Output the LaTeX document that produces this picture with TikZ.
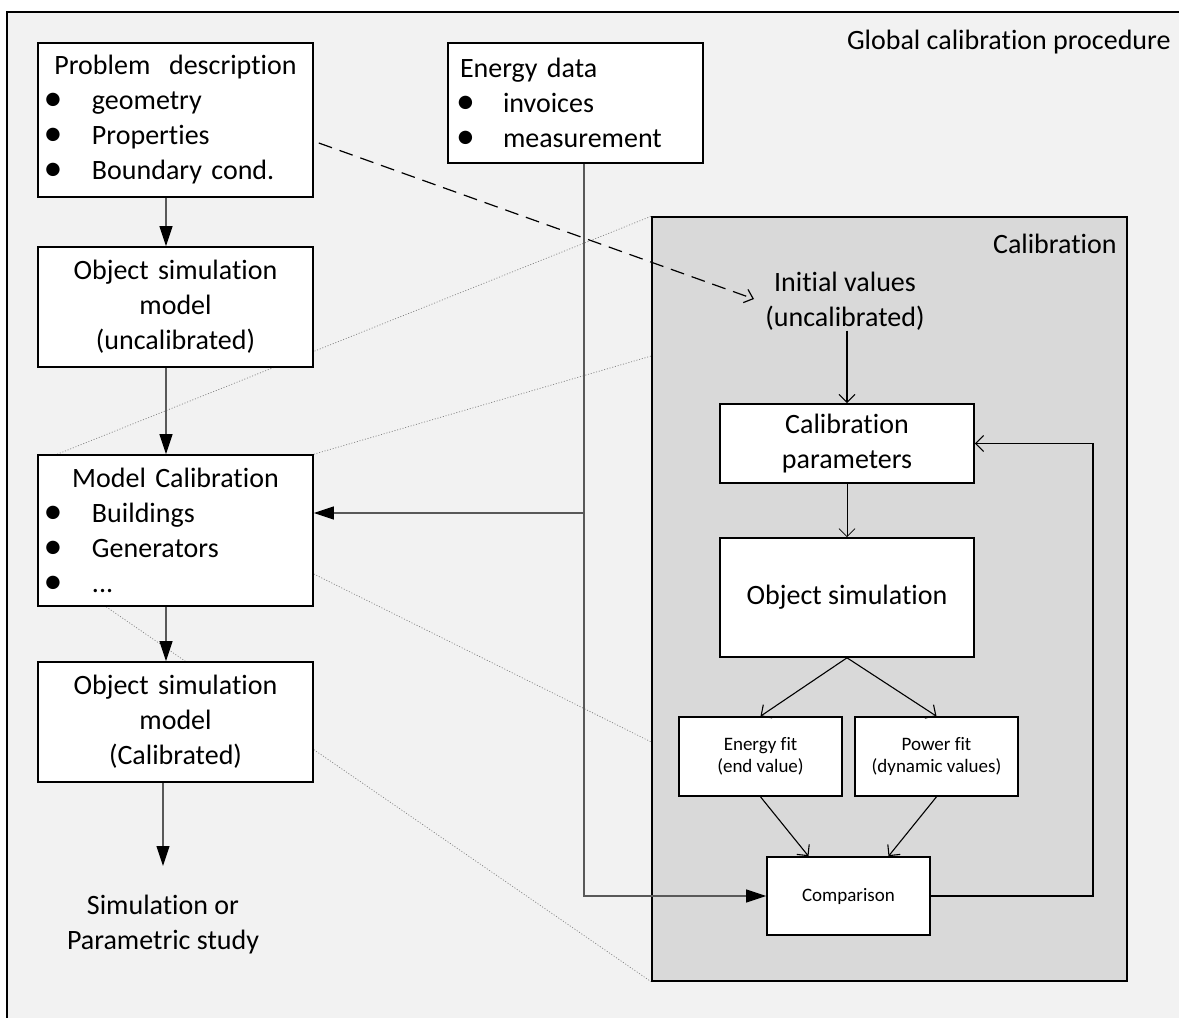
\documentclass[tikz,border=0pt]{standalone}
\usepackage{fontspec}
\usepackage{graphicx}
\setmainfont{Carlito}[Ligatures={NoCommon}]
\usetikzlibrary{arrows.meta,calc}
\definecolor{outerbg}{HTML}{F2F2F2}
\definecolor{calbg}{HTML}{D9D9D9}
\definecolor{linegray}{HTML}{595959}
\pgfdeclarelayer{bglayer}
\pgfdeclarelayer{zoomlayer}
\pgfsetlayers{bglayer,zoomlayer,main}
\newcommand{\bigbul}{\raisebox{-0.4pt}{\scalebox{1.35}{•}}}
\newcommand{\bitem}[1]{\hspace*{7.5pt}\makebox[0pt]{\bigbul}\hspace*{19.5pt}#1}
\newcommand{\eitem}[1]{\hspace*{8.75pt}\makebox[0pt]{\bigbul}\hspace*{18.75pt}#1}
\begin{document}
\begin{tikzpicture}[x=0.5pt,y=-0.5pt,
  box/.style={draw=black, line width=0.8pt, fill=white, inner sep=0pt,
    font=\fontsize{14}{17.5}\selectfont},
  leftbox/.style={box, minimum width=137.5pt, text width=137.5pt},
  smallbox/.style={box, minimum width=81.5pt, minimum height=39.5pt, align=center,
    font=\fontsize{9.5}{11}\selectfont},
  plain/.style={inner sep=0pt, font=\fontsize{14}{17.5}\selectfont},
  filledarrow/.style={-{Triangle[length=10pt,width=6.5pt,color=black]}, line width=0.55pt, draw=linegray},
  openarrow/.style={-{Straight Barb[length=4pt,width=8pt]}, line width=0.55pt, draw=black},
  zoomline/.style={draw=gray, line width=0.35pt, dash pattern=on 0.5pt off 0.9pt}]
\useasboundingbox (0,0) rectangle (1179,1018);
\clip (0,0) rectangle (1179,1018);
\begin{pgfonlayer}{bglayer}
  \draw[fill=outerbg, line width=0.7pt] (7,12) rectangle (1200,1040);
\end{pgfonlayer}

\node[plain, anchor=base east] (glob) at (1171,49) {Global calibration procedure};

% calibration region
\node[draw=black, line width=0.75pt, fill=calbg, minimum width=237.5pt, minimum height=382pt, inner sep=0pt] (cal) at (889.5,599) {};
\node[plain, anchor=base east] (callab) at (1117,253) {Calibration};

% left column
\node[leftbox, minimum height=77pt, align=left] (pd) at (175.5,120)
  {\makebox[137.5pt]{Problem\ \ description}\\ \bitem{geometry}\\ \bitem{Properties}\\ \bitem{Boundary cond.}};
\node[leftbox, minimum height=60pt, align=center] (osm) at (175.5,307)
  {Object simulation\\model\\(uncalibrated)};
\node[leftbox, minimum height=75.5pt, align=left] (mc) at (175.5,530.5)
  {\makebox[137.5pt]{Model Calibration}\\ \bitem{Buildings}\\ \bitem{Generators}\\ \bitem{...}};
\node[leftbox, minimum height=60pt, align=center] (osmc) at (175.5,722)
  {Object simulation\\model\\(Calibrated)};
\node[plain, align=center] (res) at (163,925) {Simulation or\\Parametric study};

% energy data
\node[box, minimum width=127.5pt, text width=127.5pt, minimum height=60pt, align=left] (ed) at (575.5,103)
  {\hspace*{6pt}Energy data\\ \eitem{invoices}\\ \eitem{measurement}};

% calibration inner
\node[plain, align=center] (iv) at (845,301) {Initial values\\(uncalibrated)};
\node[box, minimum width=127pt, minimum height=39.5pt, align=center] (cp) at (847,443.5) {Calibration\\parameters};
\node[box, minimum width=127pt, minimum height=59.5pt, align=center] (os) at (847,597.5) {Object simulation};
\node[smallbox] (ef) at (760.5,756.5) {Energy fit\\(end value)};
\node[smallbox] (pf) at (936.5,756.5) {Power fit\\(dynamic values)};
\node[smallbox, minimum height=39pt] (cmp) at (848.5,896) {Comparison};

% zoom lines (behind)
\begin{pgfonlayer}{zoomlayer}
  \draw[zoomline] ([xshift=10pt]mc.north west) -- (cal.north west);
  \draw[zoomline] (mc.north east) -- ([yshift=121.5pt]cal.west);
  \draw[zoomline] ([yshift=-21.75pt]mc.east) -- ([yshift=-71.5pt]cal.west);
  \draw[zoomline] ([xshift=34.5pt]mc.south west) -- (cal.south west);
\end{pgfonlayer}

% left column arrows
\draw[filledarrow] ([xshift=-4.75pt]pd.south) -- ([xshift=-4.75pt]osm.north);
\draw[filledarrow] ([xshift=-4.75pt]osm.south) -- ([xshift=-4.75pt]mc.north);
\draw[filledarrow] ([xshift=-4.75pt]mc.south) -- ([xshift=-4.75pt]osmc.north);
\coordinate (resin) at (163,866);
\draw[filledarrow] ([xshift=-6.25pt]osmc.south) -- (resin);

% energy data lines
\draw[filledarrow] ([xshift=4.25pt]ed.south) |- (cmp.west);
\coordinate (branch) at (584,513);
\draw[filledarrow] (branch) -- (branch -| mc.east);

% dashed arrow
\coordinate (ivtip) at (754,299);
\draw[dashed, dash pattern=on 7pt off 4pt, line width=0.6pt, -{Straight Barb[length=4pt,width=7pt]}]
  ([xshift=2.5pt,yshift=-11.5pt]pd.east) -- (ivtip);

% calibration loop arrows
\draw[openarrow] (iv.south -| cp.north) -- (cp.north);
\draw[openarrow, line width=0.4pt] (cp) -- (os);
\draw[openarrow] (os.south) -- (ef.north);
\draw[openarrow] (os.south) -- (pf.north);
\draw[openarrow] (ef.south) -- ([xshift=-20pt]cmp.north);
\draw[openarrow] (pf.south) -- ([xshift=20pt]cmp.north);
\coordinate (loopx) at (1093,600);
\draw[openarrow] (cmp.east) -| (loopx) |- (cp.east);
\end{tikzpicture}
\end{document}
